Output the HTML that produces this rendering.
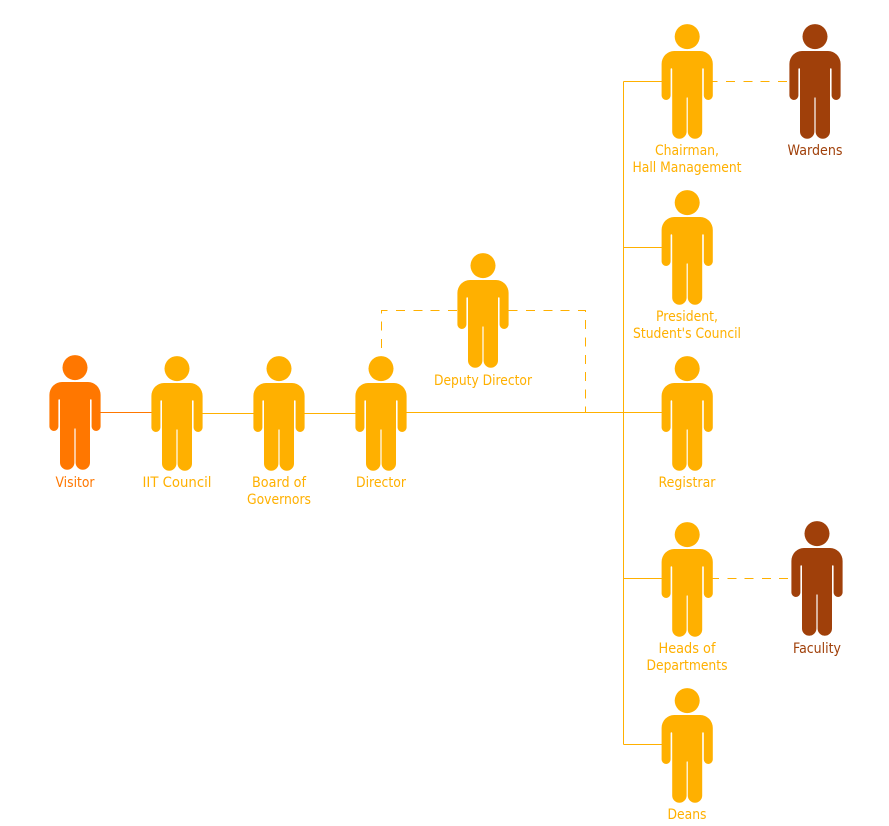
<!DOCTYPE html>
<html><head><meta charset="utf-8"><style>
html,body{margin:0;padding:0;background:#fff}
svg{display:block}
text{font-family:"DejaVu Sans","Liberation Sans",sans-serif;font-size:14px;text-anchor:middle}
</style></head><body>
<svg width="889" height="826" viewBox="0 0 889 826" xmlns="http://www.w3.org/2000/svg">
<defs><g id="p"><circle cx="0" cy="-14.4" r="12.5"/><path d="M-13 0H13A12.6 13 0 0 1 25.6 13V44.5A4.5 4.5 0 0 1 16.6 44.5V18A.7 .7 0 0 0 15 18V80.5A7 7 0 0 1 .6 80.5V47A.6 .6 0 0 0 -.6 47V80.5A7 7 0 0 1 -15 80.5V18A.7 .7 0 0 0 -16.6 18V44.5A4.5 4.5 0 0 1 -25.6 44.5V13A12.6 13 0 0 1 -13 0Z"/></g></defs>
<g fill="none" stroke-width="1" shape-rendering="crispEdges">
<path d="M100 412.5H152" stroke="#ff7700"/>
<path d="M202 413.5H254M304 413.5H356M406 412.5H662M623.5 81.5V744.5M623.5 81.5H662M623.5 247.5H662M623.5 578.5H662M623.5 744.5H662" stroke="#ffb000"/>
<g stroke="#ffb000" stroke-dasharray="9 8.3">
<path d="M381.5 356V310.5H458" stroke-dashoffset="9.2"/>
<path d="M508 310.5H585.5V412" stroke-dashoffset="16.6"/>
<path d="M708.7 81.5H790"/>
<path d="M710 578.5H792"/>
</g>
</g>
<g fill="#ffb000">
<use href="#p" x="177" y="383"/><use href="#p" x="279" y="383"/><use href="#p" x="381" y="383"/>
<use href="#p" x="483" y="280"/><use href="#p" x="687.2" y="51"/><use href="#p" x="687.2" y="217"/>
<use href="#p" x="687.2" y="383"/><use href="#p" x="687.2" y="549"/><use href="#p" x="687.2" y="715"/>
</g>
<use href="#p" x="75" y="382" fill="#ff7700"/>
<g fill="#a0400a"><use href="#p" x="815" y="51"/><use href="#p" x="817" y="548"/></g>
<g fill="#ffb000">
<text x="177" y="487" textLength="69" lengthAdjust="spacingAndGlyphs">IIT Council</text>
<text x="279" y="487" textLength="54" lengthAdjust="spacingAndGlyphs">Board of</text>
<text x="279" y="504" textLength="64" lengthAdjust="spacingAndGlyphs">Governors</text>
<text x="381" y="487" textLength="50" lengthAdjust="spacingAndGlyphs">Director</text>
<text x="483" y="385" textLength="98" lengthAdjust="spacingAndGlyphs">Deputy Director</text>
<text x="687" y="155" textLength="64" lengthAdjust="spacingAndGlyphs">Chairman,</text>
<text x="687" y="172" textLength="109" lengthAdjust="spacingAndGlyphs">Hall Management</text>
<text x="687" y="321" textLength="62" lengthAdjust="spacingAndGlyphs">President,</text>
<text x="687" y="338" textLength="108" lengthAdjust="spacingAndGlyphs">Student's Council</text>
<text x="687" y="487" textLength="57" lengthAdjust="spacingAndGlyphs">Registrar</text>
<text x="687" y="653" textLength="57" lengthAdjust="spacingAndGlyphs">Heads of</text>
<text x="687" y="670" textLength="81" lengthAdjust="spacingAndGlyphs">Departments</text>
<text x="687" y="819" textLength="39" lengthAdjust="spacingAndGlyphs">Deans</text>
</g>
<text x="75" y="487" fill="#ff7700" textLength="39" lengthAdjust="spacingAndGlyphs">Visitor</text>
<g fill="#a0400a">
<text x="815" y="155" textLength="55" lengthAdjust="spacingAndGlyphs">Wardens</text>
<text x="817" y="653" textLength="48" lengthAdjust="spacingAndGlyphs">Faculity</text>
</g>
</svg>
</body></html>
